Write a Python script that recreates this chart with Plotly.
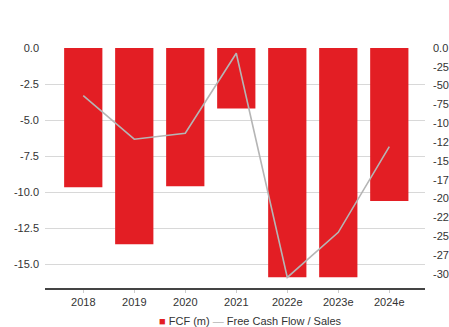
import plotly.graph_objects as go

years = ["2018", "2019", "2020", "2021", "2022e", "2023e", "2024e"]
fcf_m = [-9.65, -13.6, -9.58, -4.2, -15.9, -15.9, -10.6]
fcf_sales = [-63.3, -121.2, -113.2, -7.0, -305, -245, -131]

left_ticks = [0, -2.5, -5, -7.5, -10, -12.5, -15]
left_text = ["0.0", "-2.5", "-5.0", "-7.5", "-10.0", "-12.5", "-15.0"]
right_ticks = [0, -25, -50, -75, -100, -125, -150, -175, -200, -225, -250, -275, -300]
right_text = ["0.0"] + [str(v) for v in right_ticks[1:]]

RED = "#e31e24"
GREY = "#b5b5b5"
FONT = "Liberation Sans, Arial, Helvetica, sans-serif"

W, H = 449, 327
L, T = 45, 48
PW, PH = 380, 240

fig = go.Figure()
fig.add_trace(go.Bar(x=years, y=fcf_m, name="FCF (m)", marker=dict(color=RED, line=dict(width=0)),
                     yaxis="y", showlegend=False))
fig.add_trace(go.Scatter(x=years, y=fcf_sales, name="Free Cash Flow / Sales", mode="lines",
                         line=dict(color=GREY, width=1.6), yaxis="y2", showlegend=False))

fig.update_layout(
    width=W, height=H,
    margin=dict(l=L, r=W - L - PW, t=T, b=H - T - PH, autoexpand=False),
    paper_bgcolor="white", plot_bgcolor="white",
    font=dict(family=FONT, size=11, color="#333333"),
    bargap=0.25,
    xaxis=dict(type="category", range=[-0.75, 6.7], showgrid=False,
               showline=True, linecolor="#444444", linewidth=1.5,
               ticks="outside", ticklen=3, tickcolor="#cccccc", tickwidth=1,
               tickfont=dict(size=11, color="#333333")),
    yaxis=dict(range=[-16.64, 0], tickvals=left_ticks, ticktext=left_text,
               showgrid=True, gridcolor="#d8d8d8", gridwidth=1, zeroline=False,
               showline=False, ticks="", ticklabelstandoff=5,
               tickfont=dict(size=11, color="#333333")),
    yaxis2=dict(range=[-319, 0], overlaying="y", side="right", tickvals=right_ticks,
                ticktext=right_text, showgrid=False, zeroline=False, showline=False,
                ticks="", ticklabelstandoff=7,
                tickfont=dict(size=11, color="#333333")),
    annotations=[dict(
        xref="paper", yref="paper", x=(157 - 45) / PW, y=-(321 - 288) / PH,
        xanchor="left", yanchor="middle", showarrow=False,
        text=f"<span style='color:{RED}'>■</span> FCF (m) <span style='color:{GREY}'>—</span> Free Cash Flow / Sales",
        font=dict(size=11, color="#333333", family=FONT))],
)

fig.write_html(
    "out.html",
    config={"displayModeBar": False},
    post_script="document.body.style.margin='0';document.documentElement.style.overflow='hidden';",
)
